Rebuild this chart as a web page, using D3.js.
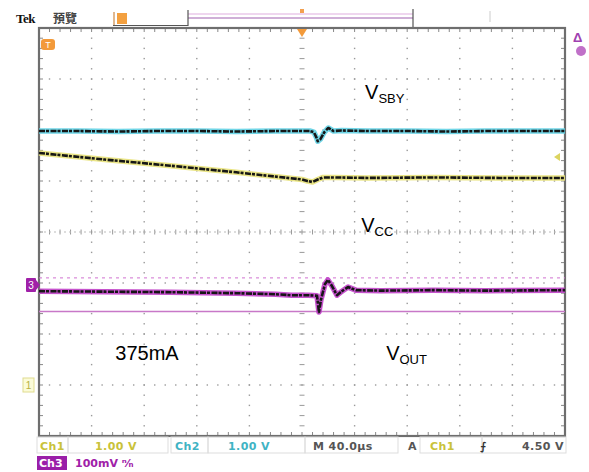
<!DOCTYPE html>
<html><head><meta charset="utf-8">
<script src="https://cdn.jsdelivr.net/npm/d3@7"></script>
<style>body{margin:0;background:#fff}svg{display:block}</style>
</head><body>
<script>
// ---- data (time in µs, 40 µs/div; level in screen divisions) ----
const vsbyT = [-200,-170,-140,-110,-80,-50,-20,0,6,9,11,12,14,17,20,24,30,50,80,110,140,170,200];
const vsbyV = [1.98,1.98,1.97,1.98,1.98,1.97,1.98,1.98,1.98,1.96,1.85,1.78,1.82,1.96,2.04,1.98,1.99,1.98,1.98,1.97,1.98,1.98,1.98];
const vccT  = [-200,-150,-100,-50,0,4,8,12,16,25,50,100,150,200];
const vccV  = [1.55,1.42,1.30,1.17,1.03,1.00,0.98,1.03,1.07,1.07,1.06,1.07,1.06,1.06];
const voutT = [-200,-150,-100,-50,-20,-8,5,11.4,12.9,14.4,17.5,19.7,22.8,26.6,30.4,35,41,60,100,140,200];
const voutV = [-1.16,-1.17,-1.18,-1.20,-1.22,-1.24,-1.24,-1.25,-1.57,-1.33,-1.02,-0.94,-1.06,-1.24,-1.16,-1.08,-1.14,-1.15,-1.14,-1.15,-1.14];
const refDashed = -0.90, refSolid = -1.56;
const ch3Ground = -1.04, ch1Ground = -3.0, trigLevel = 1.47;
const labels = [
  {main:"V", sub:"SBY", t:48, v:2.6},
  {main:"V", sub:"CC", t:45, v:0.0},
  {main:"375mA", sub:"", t:-142, v:-2.5},
  {main:"V", sub:"OUT", t:64, v:-2.5}
];
const statusRow1 = [
  {text:"Ch1", x:40, color:"#c9c23a"}, {text:"1.00 V", x:95, color:"#c9c23a"},
  {text:"Ch2", x:175, color:"#3fb3c4"}, {text:"1.00 V", x:228, color:"#3fb3c4"},
  {text:"M 40.0µs", x:313, color:"#555"}, {text:"A", x:408, color:"#555"},
  {text:"Ch1", x:430, color:"#c9c23a"}, {text:"⨍", x:480, color:"#333"},
  {text:"4.50 V", x:522, color:"#555"}
];

const W=589,H=472;
const svg=d3.select("body").append("svg").attr("width",W).attr("height",H);
const x=d3.scaleLinear().domain([-200,200]).range([39,565]);
const y=d3.scaleLinear().domain([-4,4]).range([436,28]);
const font="Liberation Sans, Arial, sans-serif";

// grid dots
const g=svg.append("g");
const majorX=d3.range(-200,201,40), majorY=d3.range(-4,4.01,1);
const minorX=d3.range(-200,200.1,8), minorY=d3.range(-4,4.01,0.2);
majorX.slice(1,-1).forEach(t=>{ if(t===0) return; minorY.forEach(v=>g.append("rect").attr("x",x(t)-0.7).attr("y",y(v)-0.7).attr("width",1.4).attr("height",1.4).attr("fill","#9a9a9a"));});
majorY.slice(1,-1).forEach(v=>{ if(v===0) return; minorX.forEach(t=>g.append("rect").attr("x",x(t)-0.7).attr("y",y(v)-0.7).attr("width",1.4).attr("height",1.4).attr("fill","#9a9a9a"));});
// center crosshair with ticks
minorX.forEach(t=>g.append("line").attr("x1",x(t)).attr("x2",x(t)).attr("y1",y(0)-2.5).attr("y2",y(0)+2.5).attr("stroke","#999").attr("stroke-width",1));
g.append("line").attr("x1",x(-200)).attr("x2",x(200)).attr("y1",y(0)).attr("y2",y(0)).attr("stroke","#bbb").attr("stroke-width",1).attr("stroke-dasharray","2,3");
minorY.forEach(v=>g.append("line").attr("x1",x(0)-2.5).attr("x2",x(0)+2.5).attr("y1",y(v)).attr("y2",y(v)).attr("stroke","#999").attr("stroke-width",1));
// border ticks
minorX.forEach(t=>{g.append("line").attr("x1",x(t)).attr("x2",x(t)).attr("y1",y(4)).attr("y2",y(4)+4).attr("stroke","#888");
  g.append("line").attr("x1",x(t)).attr("x2",x(t)).attr("y1",y(-4)).attr("y2",y(-4)-4).attr("stroke","#888");});
minorY.forEach(v=>{g.append("line").attr("x1",x(-200)).attr("x2",x(-200)+4).attr("y1",y(v)).attr("y2",y(v)).attr("stroke","#888");
  g.append("line").attr("x1",x(200)).attr("x2",x(200)-4).attr("y1",y(v)).attr("y2",y(v)).attr("stroke","#888");});
svg.append("rect").attr("x",x(-200)).attr("y",y(4)).attr("width",x(200)-x(-200)).attr("height",y(-4)-y(4)).attr("fill","none").attr("stroke","#6e6e6e").attr("stroke-width",2.2);

// reference lines
svg.append("line").attr("x1",x(-200)).attr("x2",x(200)).attr("y1",y(refDashed)).attr("y2",y(refDashed)).attr("stroke","#d070d0").attr("stroke-width",1).attr("stroke-dasharray","3,4");
svg.append("line").attr("x1",x(-200)).attr("x2",x(200)).attr("y1",y(refSolid)).attr("y2",y(refSolid)).attr("stroke","#c878c8").attr("stroke-width",1.5);

// traces
const line=d3.line().x(d=>x(d[0])).y(d=>y(d[1]));
function trace(T,V,color){
  const d=T.map((t,i)=>[t,V[i]]);
  svg.append("path").attr("d",line(d)).attr("fill","none").attr("stroke",color).attr("stroke-width",5.5).attr("stroke-linejoin","round").attr("opacity",0.9);
  svg.append("path").attr("d",line(d)).attr("fill","none").attr("stroke","#161616").attr("stroke-width",2.6).attr("stroke-dasharray","6,1,3,1.5").attr("stroke-linejoin","round");
}
trace(vsbyT,vsbyV,"#62d2e4");
trace(vccT,vccV,"#e8e27a");
trace(voutT,voutV,"#c040c8");

// markers
svg.append("rect").attr("x",26).attr("y",y(ch3Ground)-7).attr("width",10).attr("height",14).attr("fill","#a020a8").attr("rx",1);
svg.append("path").attr("d",`M36,${y(ch3Ground)-5} L40,${y(ch3Ground)} L36,${y(ch3Ground)+5}Z`).attr("fill","#a020a8");
svg.append("text").attr("x",31).attr("y",y(ch3Ground)+4).attr("text-anchor","middle").attr("font-size",10).attr("font-family",font).attr("fill","#fff").text("3");
svg.append("rect").attr("x",23).attr("y",y(ch1Ground)-7).attr("width",11).attr("height",14).attr("fill","#fbfbd8").attr("stroke","#e0dc90");
svg.append("text").attr("x",28.5).attr("y",y(ch1Ground)+4).attr("text-anchor","middle").attr("font-size",10).attr("font-family",font).attr("fill","#b8b040").text("1");
svg.append("path").attr("d",`M560,${y(trigLevel)-4} L554,${y(trigLevel)} L560,${y(trigLevel)+4}Z`).attr("fill","#dcd460");
svg.append("rect").attr("x",41).attr("y",39).attr("width",14).attr("height",11).attr("rx",3).attr("fill","#f39a3a");
svg.append("text").attr("x",48).attr("y",48).attr("text-anchor","middle").attr("font-size",9).attr("font-family",font).attr("fill","#fff").text("T");
svg.append("path").attr("d",`M${x(0)-5},29 L${x(0)+5},29 L${x(0)},37Z`).attr("fill","#f39a3a");
svg.append("rect").attr("x",x(0)-2).attr("y",9).attr("width",4).attr("height",4).attr("fill","#f3a050");

// header
svg.append("text").attr("x",16).attr("y",23).attr("font-size",13).attr("font-weight","900").attr("font-family","Liberation Serif, serif").attr("fill","#111").attr("letter-spacing",-0.5).text("Tek");
svg.append("text").attr("x",53).attr("y",23).attr("font-size",12).attr("font-weight","bold").attr("font-family","Noto Sans CJK TC, sans-serif").attr("fill","#444").text("預覽");
svg.append("rect").attr("x",117).attr("y",13).attr("width",10).attr("height",11).attr("fill","#f3a040");
svg.append("line").attr("x1",114).attr("x2",114).attr("y1",12).attr("y2",25).attr("stroke","#c07020");
svg.append("line").attr("x1",113).attr("x2",188).attr("y1",25.5).attr("y2",25.5).attr("stroke","#555");
svg.append("line").attr("x1",188).attr("x2",413).attr("y1",14).attr("y2",14).attr("stroke","#efd6ef").attr("stroke-width",2);
svg.append("line").attr("x1",188).attr("x2",413).attr("y1",18).attr("y2",18).attr("stroke","#a060b0").attr("stroke-width",1.2);
svg.append("line").attr("x1",188).attr("x2",188).attr("y1",10).attr("y2",26).attr("stroke","#555").attr("stroke-width",1.2);
svg.append("line").attr("x1",413).attr("x2",413).attr("y1",9).attr("y2",27).attr("stroke","#555").attr("stroke-width",1.2);
svg.append("line").attr("x1",490).attr("x2",490).attr("y1",11).attr("y2",22).attr("stroke","#ccc");
svg.append("text").attr("x",573).attr("y",42).attr("font-size",13).attr("font-weight","bold").attr("font-family",font).attr("fill","#a040b0").text("Δ");
svg.append("circle").attr("cx",581).attr("cy",51).attr("r",5).attr("fill","#c070c8");

// labels
labels.forEach(l=>{
  const t=svg.append("text").attr("x",x(l.t)).attr("y",y(l.v)).attr("font-size",20).attr("font-family",font).attr("fill","#000");
  t.append("tspan").text(l.main);
  if(l.sub) t.append("tspan").attr("font-size",13).attr("dy",4).text(l.sub);
});

// status bar
const sb=svg.append("g").attr("font-family","DejaVu Sans, sans-serif").attr("font-size",11);
[[37,437,31],[68,437,100],[171,437,37],[208,437,97],[305,437,93],[420,437,62],[482,437,84]].forEach(b=>
  sb.append("rect").attr("x",b[0]).attr("y",b[1]).attr("width",b[2]).attr("height",16).attr("fill","none").attr("stroke","#ddd"));
statusRow1.forEach(s=>sb.append("text").attr("x",s.x).attr("y",450).attr("fill",s.color).attr("font-weight","bold").attr("letter-spacing",0.4).text(s.text));
sb.append("rect").attr("x",37).attr("y",456).attr("width",30).attr("height",14).attr("fill","#9a1ea8");
sb.append("text").attr("x",39).attr("y",467).attr("fill","#fff").attr("font-weight","bold").text("Ch3");
sb.append("text").attr("x",75).attr("y",467).attr("fill","#a020a8").attr("font-weight","bold").text("100mV ⁿ⁄ₙ");
</script>
</body></html>
